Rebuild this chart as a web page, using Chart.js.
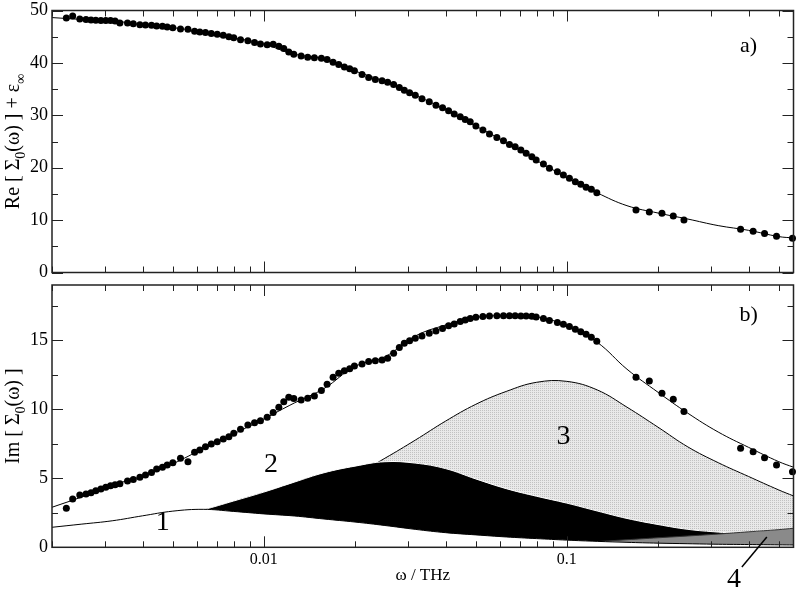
<!DOCTYPE html>
<html>
<head>
<meta charset="utf-8">
<script src="https://cdn.jsdelivr.net/npm/chart.js@4.4.1/dist/chart.umd.min.js"></script>
<style>
  body { margin: 0; background: #fff; }
  #wrap { position: relative; width: 800px; height: 594px; }
  canvas { position: absolute; left: 0; }
</style>
</head>
<body>
<div id="wrap">
  <canvas id="reChart" width="800" height="280" style="top:0"></canvas>
  <canvas id="imChart" width="800" height="314" style="top:280px"></canvas>
</div>
<script>
// measured frequencies (THz), same for both panels
const freq = [
  0.00223, 0.00234, 0.00247, 0.00259, 0.00269, 0.00279, 0.0029, 0.00301, 0.00312, 0.00323,
  0.00335, 0.00355, 0.00371, 0.0039, 0.00407, 0.00426, 0.00443, 0.00463, 0.0048, 0.00501,
  0.00531, 0.00562, 0.00591, 0.00615, 0.00642, 0.00671, 0.00702, 0.00735, 0.00767, 0.00796,
  0.00838, 0.00886, 0.00932, 0.00975, 0.01026,
  0.01074, 0.01121, 0.01164, 0.01209, 0.01256, 0.01328, 0.01396, 0.01469, 0.01549, 0.01618,
  0.01693, 0.01767, 0.01845, 0.01921, 0.01991, 0.0211, 0.02219, 0.02334, 0.02456, 0.02563,
  0.02682, 0.02801, 0.02909, 0.03028, 0.03162, 0.03327, 0.03516, 0.037, 0.0389, 0.04072,
  0.04251, 0.04449, 0.04621, 0.048, 0.05012, 0.05285, 0.05557, 0.05878, 0.0618, 0.06468,
  0.06754, 0.07053, 0.07343, 0.07667, 0.07923, 0.08373, 0.08763,
  0.0931, 0.09745, 0.102, 0.1067, 0.1112, 0.1158, 0.1205, 0.1256,
  0.1692, 0.1872, 0.2061, 0.2246, 0.2436,
  0.3746, 0.4121, 0.4494, 0.4922, 0.5557
];
const reData = [
  48.58, 48.96, 48.39, 48.26, 48.2, 48.13, 48.07, 48.07, 48.07, 48.0,
  47.62, 47.62, 47.49, 47.3, 47.24, 47.18, 47.05, 46.99, 46.86, 46.73,
  46.48, 46.41, 46.03, 45.9, 45.78, 45.59, 45.46, 45.27, 45.01, 44.82,
  44.44, 44.25, 43.9, 43.62, 43.46,
  43.56, 43.18, 42.74, 42.1, 41.66, 41.34, 41.09, 40.96, 40.9, 40.64,
  40.13, 39.69, 39.24, 38.86, 38.48, 37.78, 37.21, 36.83, 36.58, 36.32,
  35.88, 35.31, 34.8, 34.29, 33.85, 33.15, 32.58, 31.94, 31.43, 30.86,
  30.23, 29.72, 29.21, 28.77, 27.94, 27.18, 26.42, 25.78, 25.15, 24.45,
  24.0, 23.37, 22.74, 22.1, 21.47, 20.7, 19.88,
  19.24, 18.6, 17.98, 17.33, 16.84, 16.26, 15.88, 15.24,
  11.94, 11.56, 11.31, 10.8, 10.04,
  8.27, 7.89, 7.43, 6.93, 6.55
];
const imData = [
  2.82, 3.5, 3.79, 3.86, 3.96, 4.1, 4.22, 4.35, 4.45, 4.53,
  4.6, 4.8, 4.92, 5.07, 5.24, 5.41, 5.67, 5.8, 5.96, 6.13,
  6.45, 6.2, 6.88, 7.05, 7.29, 7.49, 7.65, 7.85, 8.01, 8.26,
  8.55, 8.86, 9.03, 9.17, 9.42,
  9.76, 10.14, 10.55, 10.87, 10.77, 10.67, 10.8, 10.96, 11.35, 11.81,
  12.32, 12.61, 12.78, 12.94, 13.14, 13.28, 13.45, 13.52, 13.57, 13.69,
  14.06, 14.47, 14.78, 14.97, 15.14, 15.31, 15.51, 15.67, 15.84, 16.04,
  16.18, 16.35, 16.47, 16.57, 16.66, 16.71, 16.76, 16.78, 16.78, 16.78,
  16.78, 16.76, 16.76, 16.74, 16.69, 16.57, 16.43,
  16.28, 16.16, 15.99, 15.8, 15.62, 15.43, 15.22, 14.93,
  12.32, 12.05, 11.16, 10.72, 9.83,
  7.17, 6.93, 6.49, 5.96, 5.48
];

// fitted curves, read at tenth-of-a-decade steps
const fitFreq = [
  0.002, 0.00251, 0.00316, 0.00398, 0.00501, 0.00631, 0.00794, 0.01, 0.0126, 0.0158,
  0.02, 0.0251, 0.0316, 0.0398, 0.0501, 0.0631, 0.0794, 0.1, 0.126, 0.158,
  0.2, 0.251, 0.316, 0.398, 0.501, 0.56
];
const reFit = [
  48.65, 48.3, 48.05, 47.25, 46.73, 45.85, 44.8, 43.6, 41.65, 40.8,
  38.45, 36.45, 33.85, 31.1, 27.95, 24.85, 21.4, 18.15, 15.2, 12.75,
  11.35, 10.2, 8.95, 8.05, 6.85, 6.6
];
const imFit = [
  2.9, 3.65, 4.5, 5.15, 6.05, 7.15, 8.2, 9.3, 10.45, 11.5,
  13.1, 13.8, 15.3, 16.1, 16.65, 16.78, 16.7, 16.05, 14.85, 12.9,
  11.23, 9.71, 8.35, 7.24, 6.2, 5.8
];
const comp1 = [
  1.45, 1.68, 1.92, 2.28, 2.62, 2.75, 2.6, 2.42, 2.27, 2.05,
  1.83, 1.58, 1.3, 1.06, 0.9, 0.75, 0.63, 0.52, 0.43, 0.36,
  0.3, 0.26, 0.22, 0.2, 0.18, 0.17
];
const comp2 = [
  0.85, 1.1, 1.4, 1.75, 2.2, 2.72, 3.35, 4.0, 4.72, 5.4,
  5.88, 6.2, 6.1, 5.7, 4.95, 4.25, 3.7, 3.2, 2.63, 2.09,
  1.65, 1.3, 1.1, 0.95, 0.85, 0.8
];
const comp3 = [
  0.55, 0.7, 0.9, 1.12, 1.42, 1.8, 2.25, 2.8, 3.5, 4.3,
  5.25, 6.45, 7.76, 9.14, 10.36, 11.29, 11.95, 12.02, 11.4, 10.15,
  8.7, 7.27, 6.13, 5.13, 4.15, 3.72
];
const comp4 = [
  0, 0, 0, 0, 0, 0, 0, 0, 0, 0,
  0, 0, 0.05, 0.1, 0.15, 0.2, 0.27, 0.34, 0.42, 0.55,
  0.69, 0.82, 0.96, 1.12, 1.28, 1.38
];

// axis ticks
const xTicks = [0.002, 0.003, 0.004, 0.005, 0.006, 0.007, 0.008, 0.009,
  0.01, 0.02, 0.03, 0.04, 0.05, 0.06, 0.07, 0.08, 0.09, 0.1, 0.2, 0.3, 0.4, 0.5];
const xMajor = [0.01, 0.1];
const xMin = 0.002, xMax = 0.56;

Chart.defaults.font.family = "'Liberation Serif', 'DejaVu Serif', serif";
Chart.defaults.color = '#000';

function pts(xs, ys) {
  return xs.map((x, i) => ({ x: x, y: ys[i] }));
}

// fine stipple for component 3
function stipple() {
  const c = document.createElement('canvas');
  c.width = 2; c.height = 2;
  const g = c.getContext('2d');
  g.fillStyle = '#e9e9e9';
  g.fillRect(0, 0, 2, 2);
  g.fillStyle = '#c2c2c2';
  g.fillRect(0, 0, 1, 1);
  return g.createPattern(c, 'repeat');
}

// frame + inward ticks on all four sides
const frameTicks = {
  id: 'frameTicks',
  afterDraw(chart, args, opts) {
    const ctx = chart.ctx;
    const a = chart.chartArea;
    const xs = chart.scales.x, ys = chart.scales.y;
    ctx.save();
    ctx.strokeStyle = '#222';
    ctx.lineWidth = 1;
    ctx.beginPath();
    xTicks.forEach(v => {
      const px = Math.round(xs.getPixelForValue(v)) + 0.5;
      const len = xMajor.includes(v) ? 11 : 6;
      ctx.moveTo(px, a.bottom); ctx.lineTo(px, a.bottom - len);
      ctx.moveTo(px, a.top); ctx.lineTo(px, a.top + len);
    });
    for (let v = ys.min; v <= ys.max + 1e-9; v += opts.minor) {
      const py = Math.round(ys.getPixelForValue(v)) + 0.5;
      const major = Math.abs(v / opts.major - Math.round(v / opts.major)) < 1e-6;
      const len = major ? 11 : 6;
      ctx.moveTo(a.left, py); ctx.lineTo(a.left + len, py);
      ctx.moveTo(a.right, py); ctx.lineTo(a.right - len, py);
    }
    ctx.stroke();
    ctx.lineWidth = 1.5;
    ctx.strokeRect(a.left, a.top, a.right - a.left, a.bottom - a.top);
    ctx.restore();
  }
};

// rotated y title with subscripts, plus text labels placed in data units
const annotations = {
  id: 'annotations',
  afterDraw(chart, args, opts) {
    const ctx = chart.ctx;
    const a = chart.chartArea;
    const xs = chart.scales.x, ys = chart.scales.y;
    const fam = "'Liberation Serif', serif";
    ctx.save();
    ctx.fillStyle = '#000';
    // y title
    const size = 20;
    ctx.translate(19, (a.top + a.bottom) / 2);
    ctx.rotate(-Math.PI / 2);
    let total = 0;
    opts.title.forEach(p => {
      ctx.font = (p.sub ? size * 0.7 : size) + 'px ' + fam;
      total += ctx.measureText(p.t).width;
    });
    let cx = -total / 2;
    ctx.textBaseline = 'alphabetic';
    opts.title.forEach(p => {
      ctx.font = (p.sub ? size * 0.7 : size) + 'px ' + fam;
      ctx.fillText(p.t, cx, p.sub ? size * 0.28 : 0);
      cx += ctx.measureText(p.t).width;
    });
    ctx.setTransform(1, 0, 0, 1, 0, 0);
    // labels
    ctx.textAlign = 'center';
    ctx.textBaseline = 'middle';
    opts.labels.forEach(l => {
      ctx.font = l.size + 'px ' + fam;
      ctx.fillText(l.text, xs.getPixelForValue(l.x), ys.getPixelForValue(l.y));
    });
    (opts.lines || []).forEach(l => {
      ctx.beginPath();
      ctx.lineWidth = 1.5;
      ctx.strokeStyle = '#000';
      ctx.moveTo(xs.getPixelForValue(l[0]), ys.getPixelForValue(l[1]));
      ctx.lineTo(xs.getPixelForValue(l[2]), ys.getPixelForValue(l[3]));
      ctx.stroke();
    });
    ctx.restore();
  }
};

function dots(ys) {
  return {
    type: 'scatter', data: pts(freq, ys), order: 0, clip: false,
    pointRadius: 3.5, pointBackgroundColor: '#000', pointBorderWidth: 0, showLine: false
  };
}
function curve(ys, order, line, fill) {
  return {
    type: 'line', data: pts(fitFreq, ys), order: order,
    borderColor: line, borderWidth: 1, pointRadius: 0, tension: 0.4,
    fill: fill ? 'origin' : false, backgroundColor: fill || 'transparent'
  };
}

function xScale(showLabels) {
  const s = {
    type: 'logarithmic', min: xMin, max: xMax, display: showLabels,
    grid: { display: false, drawTicks: false }, border: { display: false },
    afterBuildTicks: s => { s.ticks = xTicks.map(v => ({ value: v })); },
    ticks: {
      autoSkip: false, maxRotation: 0, padding: 3, font: { size: 16 },
      callback: v => (xMajor.includes(v) ? String(v) : '')
    },
    title: { display: true, text: 'ω / THz', font: { size: 17 }, padding: { top: 0, bottom: 8 } }
  };
  s.afterFit = sc => {
    if (showLabels) sc.height = 46.7;
    sc.paddingLeft = 0; sc.paddingRight = 0;
  };
  return s;
}
function yScale(max, step) {
  return {
    type: 'linear', min: 0, max: max,
    grid: { display: false, drawTicks: false }, border: { display: false },
    afterFit: s => { s.width = 52; s.paddingTop = 0; s.paddingBottom = 0; },
    ticks: { stepSize: step, includeBounds: false, padding: 4, font: { size: 18 } }
  };
}

new Chart(document.getElementById('reChart'), {
  type: 'scatter',
  data: {
    datasets: [
      dots(reData),
      curve(reFit, 1, '#000', null)
    ]
  },
  options: {
    responsive: false, animation: false, devicePixelRatio: 1,
    layout: { padding: { left: 0, right: 6.5, top: 10.5, bottom: 7.5 } },
    plugins: {
      legend: { display: false }, tooltip: { enabled: false },
      frameTicks: { major: 10, minor: 5 },
      annotations: {
        title: [{ t: 'Re [ Σ' }, { t: '0', sub: true }, { t: '(ω) ] + ε' }, { t: '∞', sub: true }],
        labels: [{ text: 'a)', x: 0.398, y: 43.2, size: 22 }]
      }
    },
    scales: { x: xScale(false), y: yScale(50, 10) }
  },
  plugins: [frameTicks, annotations]
});

new Chart(document.getElementById('imChart'), {
  type: 'scatter',
  data: {
    datasets: [
      dots(imData),
      curve(imFit, 1, '#000', null),
      curve(comp1, 2, '#000', '#fff'),
      curve(comp4, 3, '#333', '#8a8a8a'),
      curve(comp2, 4, '#fff', '#000'),
      curve(comp3, 5, '#000', stipple())
    ]
  },
  options: {
    responsive: false, animation: false, devicePixelRatio: 1,
    layout: { padding: { left: 0, right: 6.5, top: 5, bottom: 0 } },
    plugins: {
      legend: { display: false }, tooltip: { enabled: false },
      frameTicks: { major: 5, minor: 2.5 },
      annotations: {
        title: [{ t: 'Im [ Σ' }, { t: '0', sub: true }, { t: '(ω) ]' }],
        labels: [
          { text: 'b)', x: 0.398, y: 16.83, size: 22 },
          { text: '1', x: 0.00464, y: 1.76, size: 28 },
          { text: '2', x: 0.01056, y: 5.96, size: 28 },
          { text: '3', x: 0.0976, y: 8.01, size: 28 },
          { text: '4', x: 0.356, y: -2.37, size: 28 }
        ],
        lines: [[0.3783, -1.43, 0.4573, 0.75]]
      }
    },
    scales: { x: xScale(true), y: yScale(19, 5) }
  },
  plugins: [frameTicks, annotations]
});
</script>
</body>
</html>
